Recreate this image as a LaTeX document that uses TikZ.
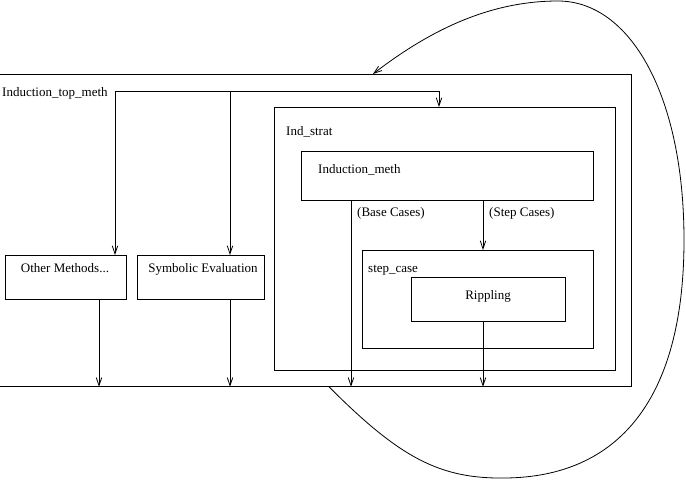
\documentclass[tikz,border=0pt]{standalone}
\usepackage{fontspec}
\setmainfont{Liberation Serif}
\newfontfamily\figfont{Liberation Serif}
\usetikzlibrary{
arrows.meta,
calc
}

\tikzset{
    box/.style={
        draw,
        line width=0.8pt,
        inner sep=0pt,
        anchor=north west
    },
    lbl/.style={
        inner sep=0pt,
        anchor=base west
    },
    flow/.style={
        line width=0.8pt,
        -{Straight Barb[length=8pt,width=5.5pt]}
    }
}

\begin{document}
\begin{tikzpicture}[
    x=1pt,
    y=-1pt,
    font=\figfont\fontsize{13}{15}\selectfont
]

\useasboundingbox (0,0) rectangle (686,480);

% =========================
% INDUCTION TOP METHOD
% =========================
\node[
    box,
    minimum width=634pt,
    minimum height=312pt
]
(topmeth) at (-3,74) {};

\node[lbl]
(topmethlbl) at (2,96)
{Induction\_top\_meth};

% =========================
% OTHER METHODS / SYMBOLIC EVALUATION
% =========================
\node[
    box,
    minimum width=121pt,
    minimum height=44pt
]
(othm) at (5,255) {};

\node[
    lbl,
    anchor=base
]
(othmlbl) at (65,272)
{Other Methods...};

\node[
    box,
    minimum width=127pt,
    minimum height=44pt
]
(symev) at (137,255) {};

\node[
    lbl,
    anchor=base
]
(symevlbl) at (203,272)
{Symbolic Evaluation};

% =========================
% INDUCTION STRATEGY
% =========================
\node[
    box,
    minimum width=341pt,
    minimum height=263pt
]
(indstrat) at (274,107) {};

\node[lbl]
(indstratlbl) at (286,135)
{Ind\_strat};

\node[
    box,
    minimum width=292pt,
    minimum height=49pt
]
(indmeth) at (301,151) {};

\node[lbl]
(indmethlbl) at (318,173)
{Induction\_meth};

% =========================
% STEP CASE
% =========================
\node[
    box,
    minimum width=231pt,
    minimum height=98pt
]
(stepcase) at (362,250) {};

\node[lbl]
(stepcaselbl) at (368,272)
{step\_case};

\node[
    box,
    minimum width=154pt,
    minimum height=44pt
]
(ripl) at (411,277) {};

\node[
    lbl,
    anchor=base
]
(ripllbl) at (488,299)
{Rippling};

% =========================
% CONNECTORS
% =========================
\coordinate (fork) at (115,91);
\coordinate (symtap) at (230,91);
\coordinate (indtap) at (439,91);
\coordinate (othout) at (99,0);
\coordinate (basecol) at (351,0);
\coordinate (stepcol) at (483,0);

\draw[flow] (fork) -- (fork |- othm.north);
\draw[flow] (fork) -- (indtap) -- (indtap |- indstrat.north);
\draw[flow] (symtap) -- (symtap |- symev.north);

\draw[flow] (othout |- othm.south) -- (othout |- topmeth.south);
\draw[flow] (symtap |- symev.south) -- (symtap |- topmeth.south);

\draw[flow] (basecol |- indmeth.south) -- (basecol |- topmeth.south);
\draw[flow] (stepcol |- indmeth.south) -- (stepcol |- stepcase.north);
\draw[flow] (stepcol |- ripl.south) -- (stepcol |- topmeth.south);

\node[lbl]
(baselbl) at (357,216)
{(Base Cases)};

\node[lbl]
(steplbl) at (489,216)
{(Step Cases)};

% =========================
% LOOP BACK
% =========================
\coordinate (loopout) at (329,0);
\coordinate (loopin) at (373,0);

\draw[flow]
(loopout |- topmeth.south)
.. controls (400,458) and (440,479) ..
(505,478)
.. controls (618,477) and (684,400) ..
(684,240)
.. controls (684,95) and (630,1) ..
(558,1)
.. controls (490,1) and (430,30) ..
(loopin |- topmeth.north);

\end{tikzpicture}
\end{document}
